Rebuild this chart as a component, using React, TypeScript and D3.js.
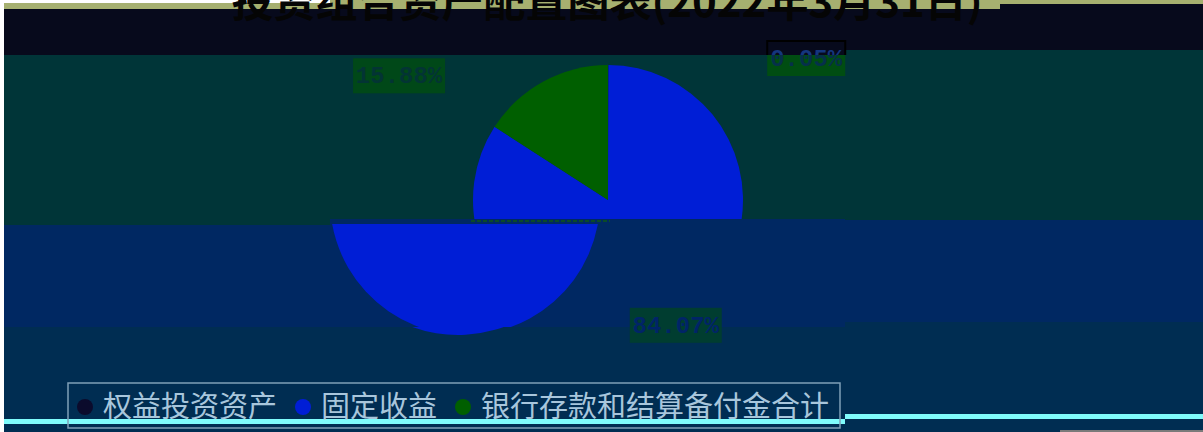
import React from 'react';
import * as d3 from 'd3';

const title = '投资组合资产配置图表(2022年3月31日)';
const categories = ['权益投资资产', '固定收益', '银行存款和结算备付金合计'];
const shares = [0.05, 84.07, 15.88];
const sliceColors = ['#0b0b2c', '#001ed6', '#005f00'];
const labelShiftX = [198, 0, -141];
const labelFills = ['#004d12', '#003d30', '#004818'];
const labelInks = ['#06304a', '#002468', '#033434'];

const W = 1203;
const H = 432;
const R = 135;
const CX = 608;
const CY = 200;

// glitch bands of the picture: [x0, x1, y0, y1, colour]
const bands: [number, number, number, number, string][] = [
  [0, 1203, 0, 432, '#002d52'],
  [0, 1000, 0, 9, '#a6b070'],
  [1000, 1203, 0, 4, '#a6b070'],
  [0, 845, 9, 55, '#070a1c'],
  [845, 1000, 9, 50, '#070a1c'],
  [1000, 1203, 4, 50, '#070a1c'],
  [0, 330, 55, 225, '#003538'],
  [330, 845, 55, 219, '#003538'],
  [845, 1203, 50, 220, '#003538'],
  [0, 330, 225, 327, '#002862'],
  [330, 845, 219, 327, '#002862'],
  [845, 1203, 220, 322, '#002862'],
  [0, 845, 419, 424, '#7ffcfc'],
  [845, 1203, 414, 419, '#7ffcfc'],
  [1060, 1203, 430, 432, '#7a7a7a'],
  [0, 4, 0, 432, '#ffffff'],
  [0, 330, 0, 3, '#ffffff'],
];

const pieSlices: { y0: number; y1: number; dx: number }[] = [
  { y0: 0, y1: 219, dx: 0 },
  { y0: 224, y1: 327, dx: -143 },
  { y0: 327, y1: 345, dx: -150 },
];

export default function App() {
  const pie = d3.pie<number>().sort(null).value((d) => d);
  const arcs = pie(shares);
  const arc = d3.arc<d3.PieArcDatum<number>>().innerRadius(0).outerRadius(R);
  const labelArc = d3.arc<d3.PieArcDatum<number>>().innerRadius(142).outerRadius(142);

  const fs = 29;
  let cursor = 85;
  const legendItems = categories.map((c, i) => {
    const dotX = cursor;
    const textX = dotX + 18;
    cursor = textX + c.length * fs + 26;
    return { c, i, dotX, textX };
  });

  return (
    <svg
      width={W}
      height={H}
      style={{ position: 'absolute', left: 0, top: 0, display: 'block' }}
    >
      <defs>
        {pieSlices.map((s, k) => (
          <clipPath id={`pc${k}`} key={k}>
            <rect x={0} y={s.y0} width={W} height={s.y1 - s.y0} />
          </clipPath>
        ))}
        <clipPath id="topband">
          <rect x={0} y={0} width={W} height={55} />
        </clipPath>
      </defs>
      {bands.map((b, i) => (
        <rect key={i} x={b[0]} y={b[2]} width={b[1] - b[0]} height={b[3] - b[2]} fill={b[4]} />
      ))}

      <text
        x={607}
        y={17}
        textAnchor="middle"
        fontSize={42}
        fontWeight={700}
        fontFamily="'Noto Sans CJK SC', sans-serif"
        fill="#050505"
      >
        {title}
      </text>

      {pieSlices.map((s, k) => (
        <g key={k} clipPath={`url(#pc${k})`}>
          <g transform={`translate(${CX + s.dx},${CY})`}>
            {arcs.map((a, i) => (
              <path key={i} d={arc(a) || ''} fill={sliceColors[i]} />
            ))}
          </g>
        </g>
      ))}

      <line x1={471} x2={610} y1={221} y2={221} stroke="#0a4a2a" strokeWidth={2} strokeDasharray="4 2" />

      {arcs.map((a, i) => {
        const [lx, ly] = labelArc.centroid(a);
        const txt = `${shares[i].toFixed(2)}%`;
        const w = txt.length * 14 + 8;
        const x = CX + lx + labelShiftX[i];
        const y = CY + ly;
        return (
          <g key={i}>
            <rect x={x - w / 2} y={y - 17} width={w} height={35} fill={labelFills[i]} />
            <text
              x={x}
              y={y + 8}
              textAnchor="middle"
              fontSize={24}
              fontWeight={700}
              fontFamily="'Liberation Mono', monospace"
              fill={labelInks[i]}
            >
              {txt}
            </text>
            <g clipPath="url(#topband)">
              <rect x={x - w / 2} y={y - 17} width={w} height={35} fill="#070a1c" stroke="#000" strokeWidth={2} />
              <text
                x={x}
                y={y + 8}
                textAnchor="middle"
                fontSize={24}
                fontWeight={700}
                fontFamily="'Liberation Mono', monospace"
                fill="#14367e"
              >
                {txt}
              </text>
            </g>
          </g>
        );
      })}

      <rect x={68} y={383} width={772} height={45} fill="none" stroke="#7fa0b8" strokeWidth={1.5} />
      {legendItems.map((it) => (
        <g key={it.i}>
          <circle cx={it.dotX} cy={407} r={8} fill={sliceColors[it.i]} />
          <text
            x={it.textX}
            y={417}
            fontSize={fs}
            fontFamily="'Noto Sans CJK SC', sans-serif"
            fill="#a8c6dc"
          >
            {it.c}
          </text>
        </g>
      ))}
    </svg>
  );
}
